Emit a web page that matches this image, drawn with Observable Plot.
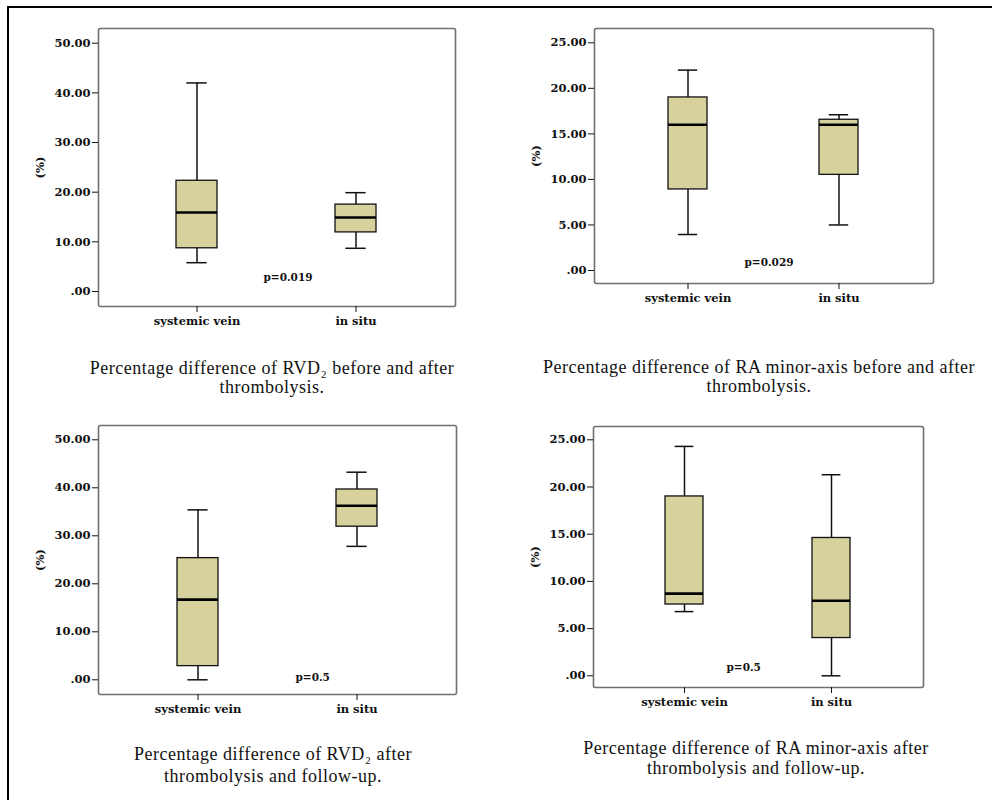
<!DOCTYPE html>
<html>
<head>
<meta charset="utf-8">
<script src="https://cdn.jsdelivr.net/npm/d3@7"></script>
<script src="https://cdn.jsdelivr.net/npm/@observablehq/plot@0.6"></script>
<style>
  html, body { margin: 0; padding: 0; background: #fff; }
  #page { position: relative; width: 992px; height: 800px; overflow: hidden; background: #fff; }
  #border { position: absolute; left: 7px; top: 6px; right: -10px; bottom: -10px;
            border-top: 2.5px solid #000; border-left: 2.5px solid #000; }
  .panel { position: absolute; }
  .caption { position: absolute; width: 560px; text-align: center;
             font-family: "Liberation Serif", "Times New Roman", serif; font-size: 18px;
             letter-spacing: 0.5px; line-height: 20px; color: #111; }
</style>
</head>
<body>
<div id="page"><div id="border"></div></div>
<script>
// ---- data (whisker low, Q1, median, Q3, whisker high) ----
const categories = ["systemic vein", "in situ"];
const rvdBeforeAfterSystemic = [5.8, 8.7, 15.9, 22.3, 42.0];
const rvdBeforeAfterInSitu   = [8.7, 11.9, 14.9, 17.5, 19.9];
const raBeforeAfterSystemic  = [3.95, 8.9, 16.0, 19.0, 22.0];
const raBeforeAfterInSitu    = [5.0, 10.5, 16.0, 16.55, 17.1];
const rvdFollowSystemic      = [0.0, 2.85, 16.7, 25.35, 35.4];
const rvdFollowInSitu        = [27.8, 31.9, 36.25, 39.65, 43.25];
const raFollowSystemic       = [6.8, 7.55, 8.7, 19.0, 24.3];
const raFollowInSitu         = [0.0, 4.0, 7.95, 14.6, 21.3];
const pValues = ["p=0.019", "p=0.029", "p=0.5", "p=0.5"];
const yTicks50 = [0, 10, 20, 30, 40, 50];
const yTicks25 = [0, 5, 10, 15, 20, 25];
const yLabel = "(%)";
const captions = [
  ["Percentage difference of RVD\u2082 before and after", "thrombolysis."],
  ["Percentage difference of RA minor-axis before and after", "thrombolysis."],
  ["Percentage difference of RVD\u2082 after", "thrombolysis and follow-up."],
  ["Percentage difference of RA minor-axis after", "thrombolysis and follow-up."]
];

// ---- layout ----
const panels = [
  {stats: [rvdBeforeAfterSystemic, rvdBeforeAfterInSitu], ticks: yTicks50, left: 0, top: 0,
   height: 340, ml: 98, mr: 41, mt: 28, mb: 34, it: 14.7, ib: 15, pdx: 165, pdy: 245,
   capX: 272, capY: 359, lh: 19},
  {stats: [raBeforeAfterSystemic, raBeforeAfterInSitu], ticks: yTicks25, left: 496, top: 0,
   height: 315, ml: 98, mr: 59, mt: 28, mb: 32, it: 14.3, ib: 13, pdx: 150, pdy: 230,
   capX: 759, capY: 358, lh: 19},
  {stats: [rvdFollowSystemic, rvdFollowInSitu], ticks: yTicks50, left: 0, top: 400,
   height: 330, ml: 98, mr: 40, mt: 25, mb: 36, it: 14.3, ib: 14.7, pdx: 197, pdy: 248,
   capX: 273, capY: 743, lh: 22},
  {stats: [raFollowSystemic, raFollowInSitu], ticks: yTicks25, left: 496, top: 400,
   height: 323, ml: 97, mr: 69, mt: 26, mb: 36, it: 13.3, ib: 11.7, pdx: 133, pdy: 237,
   capX: 756, capY: 738, lh: 20}
];

const fmt = d => d3.format(".2f")(d).replace(/^0\./, ".");
const page = document.getElementById("page");
const PAD_IN = 0.74, PAD_OUT = 0.49;

panels.forEach((cfg, k) => {
  const data = categories.map((c, i) => ({
    cat: c, low: cfg.stats[i][0], q1: cfg.stats[i][1], median: cfg.stats[i][2],
    q3: cfg.stats[i][3], high: cfg.stats[i][4]
  }));
  const width = 496;
  const step = (width - cfg.ml - cfg.mr) / (categories.length - PAD_IN + 2 * PAD_OUT);
  const capInset = step * (1 - PAD_IN) / 4;
  const ymax = cfg.ticks[cfg.ticks.length - 1];
  const chart = Plot.plot({
    width, height: cfg.height,
    marginLeft: cfg.ml, marginRight: cfg.mr, marginTop: cfg.mt, marginBottom: cfg.mb,
    x: {type: "band", domain: categories, paddingInner: PAD_IN, paddingOuter: PAD_OUT},
    y: {domain: [0, ymax], insetTop: cfg.it, insetBottom: cfg.ib},
    style: {fontFamily: "'DejaVu Serif', serif", fontWeight: "bold", fontSize: "11.5px",
            color: "#111", background: "transparent", overflow: "visible"},
    marks: [
      Plot.frame({stroke: "#707070", strokeWidth: 1.6, rx: 2}),
      Plot.axisY({ticks: cfg.ticks, tickFormat: fmt, tickSize: 6, tickPadding: 2, fontSize: 11.5,
                  label: yLabel, labelAnchor: "center", labelOffset: 63, labelArrow: false}),
      Plot.axisX({tickSize: 6, tickPadding: 4, label: null, tickFormat: d => d, fontSize: 11.5}),
      Plot.ruleX(data, {x: "cat", y1: "low", y2: "high", stroke: "#111", strokeWidth: 1.5}),
      Plot.barY(data, {x: "cat", y1: "q1", y2: "q3", fill: "#d6d19d", stroke: "#111", strokeWidth: 1.3}),
      Plot.tickY(data, {x: "cat", y: "median", stroke: "#000", strokeWidth: 2.6}),
      Plot.tickY(data, {x: "cat", y: "low", stroke: "#111", strokeWidth: 1.5, insetLeft: capInset, insetRight: capInset}),
      Plot.tickY(data, {x: "cat", y: "high", stroke: "#111", strokeWidth: 1.5, insetLeft: capInset, insetRight: capInset}),
      Plot.text([pValues[k]], {frameAnchor: "top-left", dx: cfg.pdx, dy: cfg.pdy, text: d => d,
                 fontSize: 10.5, fontWeight: "bold", fill: "#111"})
    ]
  });
  const holder = document.createElement("div");
  holder.className = "panel";
  holder.style.left = cfg.left + "px";
  holder.style.top = cfg.top + "px";
  holder.appendChild(chart);
  page.appendChild(holder);

  const cap = document.createElement("div");
  cap.className = "caption";
  cap.style.left = (cfg.capX - 280) + "px";
  cap.style.top = cfg.capY + "px";
  cap.style.lineHeight = cfg.lh + "px";
  captions[k].forEach((line, j) => {
    if (j) cap.appendChild(document.createElement("br"));
    cap.appendChild(document.createTextNode(line));
  });
  page.appendChild(cap);
});
</script>
</body>
</html>
